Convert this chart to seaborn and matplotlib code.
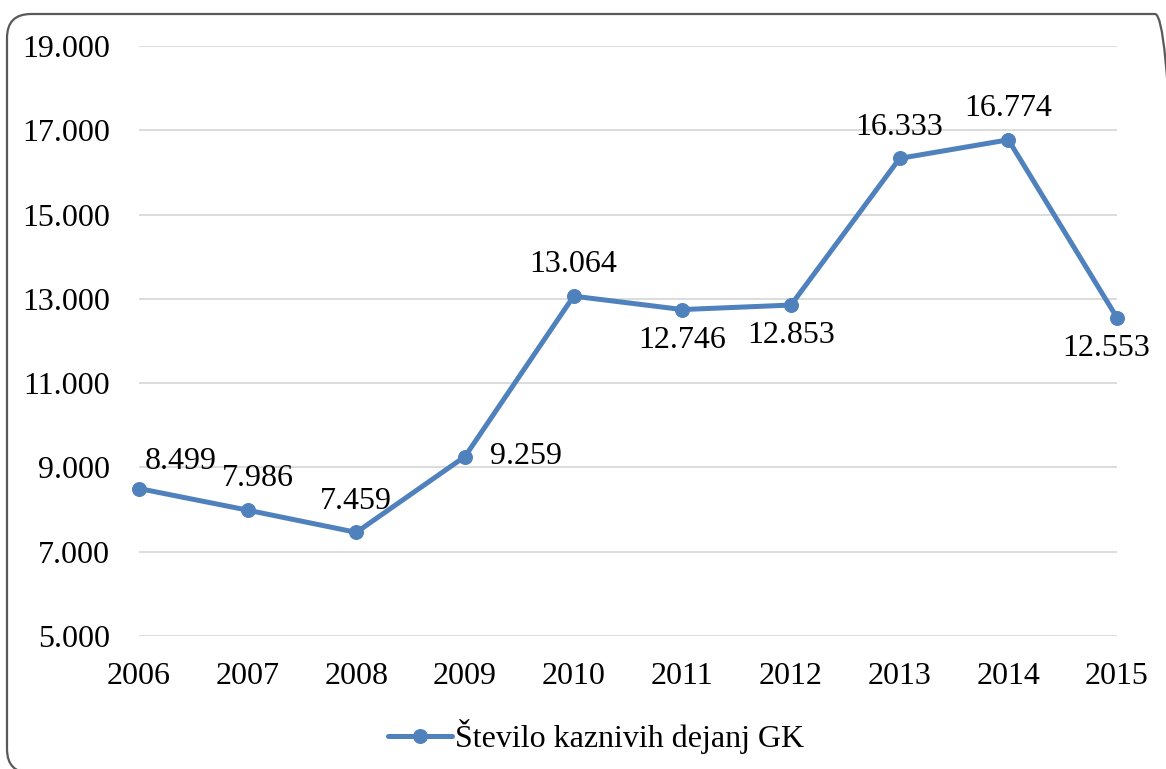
import matplotlib
matplotlib.use("Agg")
import matplotlib.pyplot as plt
from matplotlib.patches import FancyBboxPatch
from matplotlib.ticker import FuncFormatter
import seaborn as sns
import pandas as pd

years = [2006, 2007, 2008, 2009, 2010, 2011, 2012, 2013, 2014, 2015]
values = [8499, 7986, 7459, 9259, 13064, 12746, 12853, 16333, 16774, 12553]
series_name = "Število kaznivih dejanj GK"
y_ticks = [5000, 7000, 9000, 11000, 13000, 15000, 17000, 19000]
# label placement per point (style, not data)
placement = ["above_right", "above", "above", "right", "above", "below", "below", "above", "above", "below_left"]

sns.set_theme(style="white")
plt.rcParams["font.family"] = ["Liberation Serif", "DejaVu Serif"]

def fmt(v):
    return f"{int(round(v)):,}".replace(",", ".")

df = pd.DataFrame({"year": years, "value": values})

fig = plt.figure(figsize=(11.66, 7.69), dpi=100)
ax = fig.add_axes([139/1166, 1-636/769, (1117-139)/1166, (636-46)/769])

color = "#4F81BD"
sns.lineplot(data=df, x="year", y="value", ax=ax, color=color, linewidth=3.6,
             marker="o", markersize=10, markeredgecolor=color, label=series_name)
for ln in ax.lines:
    ln.set_clip_on(False)

ax.set_xlim(years[0], years[-1])
ax.set_ylim(y_ticks[0], y_ticks[-1])
ax.set_yticks(y_ticks)
ax.set_xticks(years)
ax.set_xticklabels([str(y) for y in years])
ax.yaxis.set_major_formatter(FuncFormatter(lambda v, p: fmt(v)))
ax.grid(axis="y", color="#D9D9D9", linewidth=1.3)
ax.grid(axis="x", visible=False)
ax.set_axisbelow(True)
for s in ax.spines.values():
    s.set_visible(False)
ax.tick_params(axis="y", length=0, pad=21, labelsize=23, colors="black")
ax.tick_params(axis="x", length=0, pad=19, labelsize=23, colors="black")
ax.set_xlabel("")
ax.set_ylabel("")

offsets = {
    "above": (0, 12, "center", "bottom"),
    "above_right": (30, 9, "center", "bottom"),
    "right": (18, 0, "left", "center"),
    "below": (0, -11.5, "center", "top"),
    "below_left": (-8, -11.5, "center", "top"),
}
for x, v, p in zip(years, values, placement):
    dx, dy, ha, va = offsets[p]
    if p == "above" and x == 2007:
        dx = 7
    ax.annotate(fmt(v), (x, v), xytext=(dx, dy), textcoords="offset points",
                ha=ha, va=va, fontsize=23, color="black")

ax.get_legend().remove()
h, l = ax.get_legend_handles_labels()
fig.legend(h, l, loc="center", bbox_to_anchor=(596/1166, 1-737/769), frameon=False,
           fontsize=23, handlelength=2.0, handletextpad=0.1, labelcolor="black")

box = FancyBboxPatch((7, -4), 1179 - 7, 769 - 14 + 4,
                     boxstyle="round,pad=0,rounding_size=24",
                     transform=None, facecolor="none",
                     edgecolor="#595959", linewidth=1.6, clip_on=False)
fig.patches.append(box)

fig.savefig("out.png", dpi=100)
